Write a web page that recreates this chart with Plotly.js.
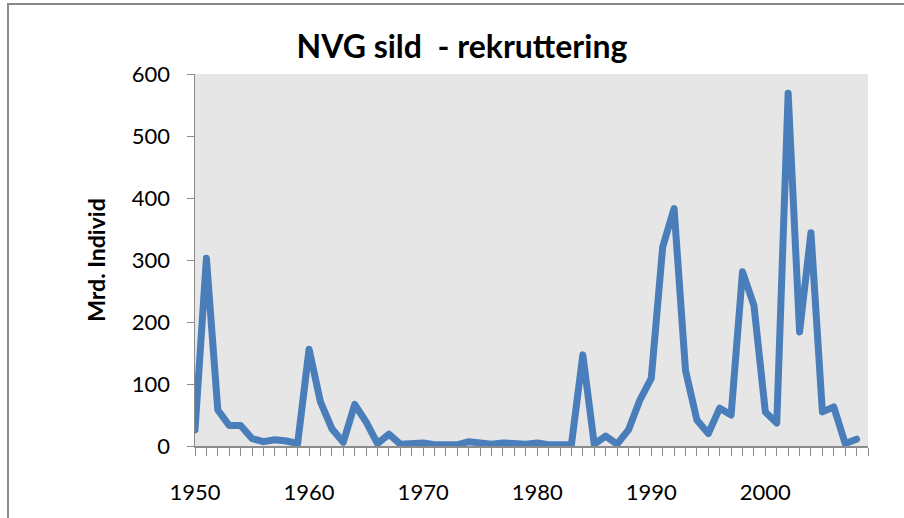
<!DOCTYPE html>
<html>
<head>
<meta charset="utf-8">
<script src="https://cdn.plot.ly/plotly-3.0.1.min.js"></script>
<style>
  html, body { margin: 0; padding: 0; background: #ffffff; }
  #wrap { position: relative; width: 904px; height: 518px; overflow: hidden; }
  #chart { position: absolute; left: 0; top: 0; width: 904px; height: 518px; }
  .frame-top { position: absolute; left: 7px; top: 3px; width: 897px; height: 2px; background: #8a8a8a; z-index: 5; }
  .frame-left { position: absolute; left: 7px; top: 3px; width: 2px; height: 515px; background: #8a8a8a; z-index: 5; }
  .js-line { stroke-linejoin: round !important; stroke-linecap: round !important; }
</style>
</head>
<body>
<div id="wrap">
  <div id="chart"></div>
  <div class="frame-top"></div>
  <div class="frame-left"></div>
</div>
<script>
// Recruitment of Norwegian spring-spawning herring (billions of individuals)
const years = [
  1950, 1951, 1952, 1953, 1954, 1955, 1956, 1957, 1958, 1959,
  1960, 1961, 1962, 1963, 1964, 1965, 1966, 1967, 1968, 1969,
  1970, 1971, 1972, 1973, 1974, 1975, 1976, 1977, 1978, 1979,
  1980, 1981, 1982, 1983, 1984, 1985, 1986, 1987, 1988, 1989,
  1990, 1991, 1992, 1993, 1994, 1995, 1996, 1997, 1998, 1999,
  2000, 2001, 2002, 2003, 2004, 2005, 2006, 2007, 2008
];
const recruitment = [
  26, 303, 58, 33, 33, 12, 7, 10, 8, 4,
  156, 71, 28, 6, 67, 39, 4, 19, 3, 3,
  5, 2, 2, 2, 7, 5, 3, 5, 3, 3,
  5, 2, 2, 2, 147, 3, 16, 3, 26, 74,
  109, 321, 383, 122, 42, 20, 61, 50, 281, 227,
  55, 37, 569, 184, 344, 55, 63, 4, 11
];
const xTickVals = [1950, 1960, 1970, 1980, 1990, 2000];
const xTickText = ["1950", "1960", "1970", "1980", "1990", "2000"];
const yTickVals = [0, 100, 200, 300, 400, 500, 600];
const chartTitle = "NVG sild  - rekruttering";
const yTitle = "Mrd. Individ";

const trace = {
  x: years,
  y: recruitment,
  type: "scatter",
  mode: "lines",
  line: { color: "#4a7ebb", width: 7 },
  cliponaxis: false,
  hoverinfo: "x+y"
};

const layout = {
  width: 904,
  height: 518,
  paper_bgcolor: "#ffffff",
  plot_bgcolor: "#e6e6e6",
  margin: { l: 195, r: 36, t: 74, b: 72 },
  showlegend: false,
  font: { family: "Lato, 'Open Sans', sans-serif", color: "#000000" },
  title: {
    text: "<b>" + chartTitle + "</b>",
    font: { family: "Lato, 'Open Sans', sans-serif", size: 32, color: "#000000" },
    x: 0.511, xref: "container", xanchor: "center",
    y: 0.909, yref: "container", yanchor: "middle"
  },
  xaxis: {
    range: [1950, 2009],
    tickmode: "array",
    tickvals: xTickVals,
    ticktext: xTickText,
    ticks: "outside",
    ticklen: 8,
    tickwidth: 1,
    tickcolor: "#8c8c8c",
    minor: { dtick: 1, tick0: 1950, ticks: "outside", ticklen: 8, tickwidth: 1, tickcolor: "#8c8c8c", showgrid: false },
    showgrid: false,
    zeroline: false,
    showline: true,
    linecolor: "#8c8c8c",
    linewidth: 1.5,
    tickfont: { family: "Lato, 'Open Sans', sans-serif", size: 22, color: "#000000" },
    ticklabelstandoff: 18,
    fixedrange: true
  },
  yaxis: {
    range: [0, 600],
    tickmode: "array",
    tickvals: yTickVals,
    ticks: "outside",
    ticklen: 7,
    tickwidth: 1,
    tickcolor: "#8c8c8c",
    showgrid: false,
    zeroline: false,
    showline: true,
    linecolor: "#8c8c8c",
    linewidth: 1.5,
    tickfont: { family: "Lato, 'Open Sans', sans-serif", size: 22, color: "#000000" },
    ticklabelstandoff: 12,
    title: {
      text: "<b>" + yTitle + "</b>",
      font: { family: "Lato, 'Open Sans', sans-serif", size: 23, color: "#000000" },
      standoff: 20
    },
    fixedrange: true
  }
};

Plotly.newPlot("chart", [trace], layout, { displayModeBar: false, staticPlot: true });
</script>
</body>
</html>
